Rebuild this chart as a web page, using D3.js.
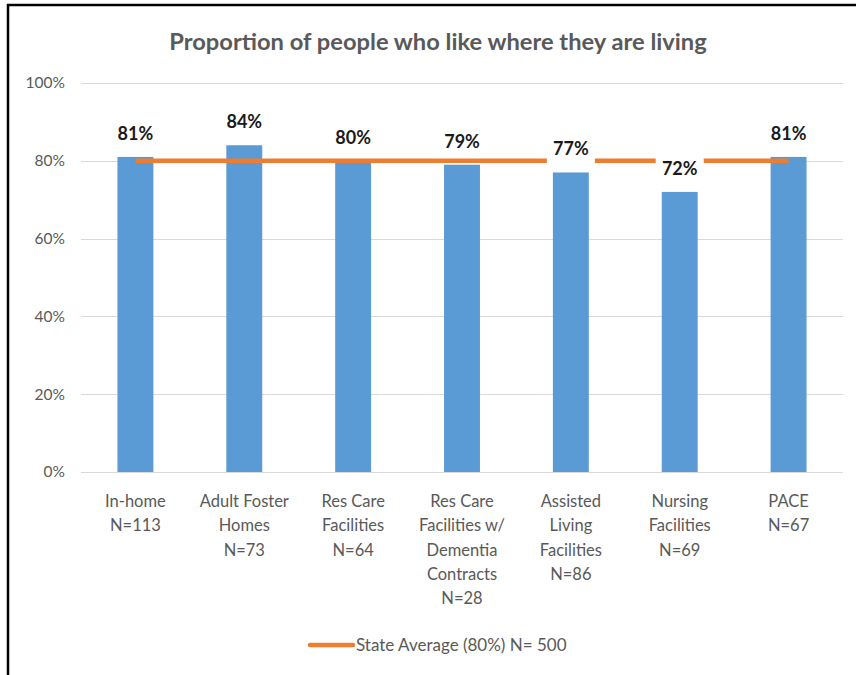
<!DOCTYPE html>
<html>
<head>
<meta charset="utf-8">
<script src="https://cdn.jsdelivr.net/npm/d3@7"></script>
<style>
  html, body { margin: 0; padding: 0; background: #fff; }
  svg { display: block; }
  text { font-family: Lato, "Open Sans", sans-serif; }
</style>
</head>
<body>
<script>
// Chart data
const categories = [
  ["In-home"],
  ["Adult Foster", "Homes"],
  ["Res Care", "Facilities"],
  ["Res Care", "Facilities w/", "Dementia", "Contracts"],
  ["Assisted", "Living", "Facilities"],
  ["Nursing", "Facilities"],
  ["PACE"]
];
const sampleSizes = [113, 73, 64, 28, 86, 69, 67];
const values = [0.81, 0.84, 0.80, 0.79, 0.77, 0.72, 0.81];
const stateAverage = 0.80;
const stateN = 500;
const yTicks = [0, 0.2, 0.4, 0.6, 0.8, 1.0];
const title = "Proportion of people who like where they are living";

const W = 856, H = 675;
const margin = { left: 81, right: 13, top: 83, bottom: 203 };

const svg = d3.select("body").append("svg")
  .attr("width", W).attr("height", H);

svg.append("rect").attr("width", W).attr("height", H).attr("fill", "#fff");

// Frame (top and left edges)
svg.append("line").attr("x1", 7).attr("x2", W).attr("y1", 5).attr("y2", 5)
  .attr("stroke", "#000").attr("stroke-width", 2.5);
svg.append("line").attr("x1", 8).attr("x2", 8).attr("y1", 4).attr("y2", H)
  .attr("stroke", "#000").attr("stroke-width", 2.5);

const x = d3.scaleBand()
  .domain(d3.range(categories.length))
  .range([margin.left, W - margin.right])
  .paddingInner(0.67).paddingOuter(0.335);

const y = d3.scaleLinear().domain([0, 1]).range([H - margin.bottom, margin.top]);

// Title
svg.append("text")
  .attr("x", 438).attr("y", 50)
  .attr("text-anchor", "middle")
  .attr("font-size", 23.7).attr("font-weight", 700)
  .attr("fill", "#595959")
  .text(title);

// Gridlines
svg.append("g").selectAll("line").data(yTicks).join("line")
  .attr("x1", margin.left).attr("x2", W - margin.right)
  .attr("y1", d => Math.round(y(d)) + 0.5).attr("y2", d => Math.round(y(d)) + 0.5)
  .attr("stroke", "#D9D9D9").attr("stroke-width", 1.2);

// Y axis labels
const yAxis = d3.axisLeft(y).tickValues(yTicks).tickFormat(d3.format(".0%")).tickSize(0).tickPadding(16);
const gy = svg.append("g").attr("transform", `translate(${margin.left},0)`).call(yAxis);
gy.select(".domain").remove();
gy.selectAll("text").attr("font-size", 15.5).attr("fill", "#595959")
  .style("font-family", "Lato, sans-serif");

// Bars
svg.append("g").selectAll("rect").data(values).join("rect")
  .attr("x", (d, i) => x(i))
  .attr("width", x.bandwidth())
  .attr("y", d => y(d))
  .attr("height", d => y(0) - y(d))
  .attr("fill", "#5B9BD5");

// State average line
const avgLine = d3.line().x(d => x(d) + x.bandwidth() / 2).y(() => y(stateAverage));
svg.append("path")
  .datum([0, categories.length - 1])
  .attr("d", avgLine)
  .attr("stroke", "#ED7D31").attr("stroke-width", 4.5)
  .attr("stroke-linecap", "butt").attr("fill", "none");

// Data labels with white background boxes
const labels = svg.append("g").selectAll("g").data(values).join("g")
  .attr("transform", (d, i) => `translate(${x(i) + x.bandwidth() / 2},${y(d) - 17})`);
labels.append("rect")
  .attr("x", -24).attr("width", 48)
  .attr("y", -19).attr("height", 27)
  .attr("fill", "#fff");
labels.append("text")
  .attr("text-anchor", "middle")
  .attr("font-size", 18).attr("font-weight", 700)
  .attr("fill", "#1a1a1a")
  .text(d => d3.format(".0%")(d));

// Category labels
const cat = svg.append("g").selectAll("text").data(categories).join("text")
  .attr("text-anchor", "middle")
  .attr("font-size", 16.5).attr("fill", "#595959")
  .attr("transform", (d, i) => `translate(${x(i) + x.bandwidth() / 2},507)`);
cat.each(function (d, i) {
  const lines = d.concat([`N=${sampleSizes[i]}`]);
  d3.select(this).selectAll("tspan").data(lines).join("tspan")
    .attr("x", 0).attr("dy", (l, j) => j === 0 ? 0 : 24.3)
    .text(l => l);
});

// Legend
svg.append("line").attr("x1", 310).attr("x2", 353).attr("y1", 645).attr("y2", 645)
  .attr("stroke", "#ED7D31").attr("stroke-width", 4.5).attr("stroke-linecap", "round");
svg.append("text").attr("x", 356).attr("y", 651)
  .attr("font-size", 17).attr("fill", "#595959")
  .text(`State Average (${d3.format(".0%")(stateAverage)}) N= ${stateN}`);
</script>
</body>
</html>
